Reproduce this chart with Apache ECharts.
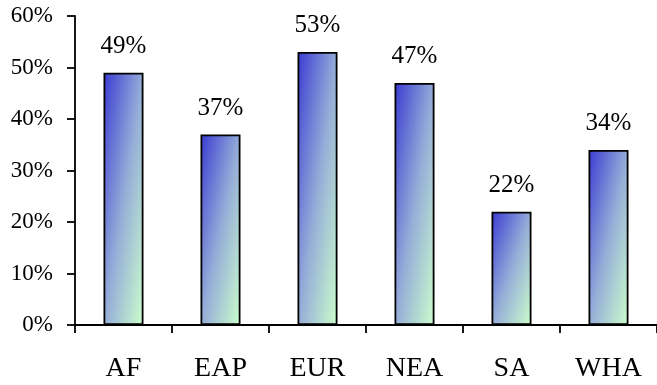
<!DOCTYPE html>
<html>
<head>
<meta charset="utf-8">
<script src="https://cdn.jsdelivr.net/npm/echarts@6/dist/echarts.min.js"></script>
<style>
  html, body { margin: 0; padding: 0; background: #fff; }
  #chart { width: 657px; height: 385px; }
</style>
</head>
<body>
<div id="chart"></div>
<script>
// Regions and their shares (percent)
const regions = ['AF', 'EAP', 'EUR', 'NEA', 'SA', 'WHA'];
const shares = [49, 37, 53, 47, 22, 34];
const yTicks = { min: 0, max: 60, step: 10 };

const FONT = '"Liberation Serif", "Times New Roman", serif';
const BAR_W = 40;
const C_START = '#3a3ad2';
const C_MID = '#94acd8';
const C_END = '#ccffcc';

const chart = echarts.init(document.getElementById('chart'), null, { renderer: 'canvas' });

// Diagonal gradient whose iso-lines run corner to corner inside each bar,
// so every bar goes from deep blue (top-left) to pale green (bottom-right).
function barGradient(h) {
  const w = BAR_W;
  const d = h * h + w * w;
  return new echarts.graphic.LinearGradient(0, 0, 2 * h * h / d, 2 * w * w / d, [
    { offset: 0, color: C_START },
    { offset: 0.5, color: C_MID },
    { offset: 1, color: C_END }
  ]);
}

function buildData(heights) {
  return shares.map((v, i) => ({
    value: v,
    itemStyle: heights ? { color: barGradient(heights[i]) } : undefined
  }));
}

const option = {
  animation: false,
  grid: { left: 75, right: -4, top: 16, bottom: 60 },
  xAxis: {
    type: 'category',
    data: regions,
    boundaryGap: true,
    axisLine: { lineStyle: { color: '#000', width: 1.8 } },
    axisTick: { show: true, inside: false, length: 8, alignWithLabel: false, lineStyle: { color: '#000', width: 1.8 } },
    axisLabel: { color: '#000', fontFamily: FONT, fontSize: 28, margin: 30 }
  },
  yAxis: {
    type: 'value',
    min: yTicks.min,
    max: yTicks.max,
    interval: yTicks.step,
    splitLine: { show: false },
    axisLine: { show: true, lineStyle: { color: '#000', width: 1.8 } },
    axisTick: { show: true, inside: false, length: 8, lineStyle: { color: '#000', width: 1.8 } },
    axisLabel: { color: '#000', fontFamily: FONT, fontSize: 23, margin: 22, formatter: '{value}%' }
  },
  series: [{
    type: 'bar',
    barWidth: BAR_W,
    data: buildData(null),
    itemStyle: { color: C_START, borderColor: '#000', borderWidth: 1.8 },
    label: {
      show: true,
      position: 'top',
      distance: 14,
      color: '#000',
      fontFamily: FONT,
      fontSize: 25,
      formatter: '{c}%'
    }
  }]
};

chart.setOption(option);

// Re-colour each bar once its pixel height is known from the value axis.
const base = chart.convertToPixel({ yAxisIndex: 0 }, 0);
const heights = shares.map(v => base - chart.convertToPixel({ yAxisIndex: 0 }, v));
chart.setOption({ series: [{ data: buildData(heights) }] });
</script>
</body>
</html>
